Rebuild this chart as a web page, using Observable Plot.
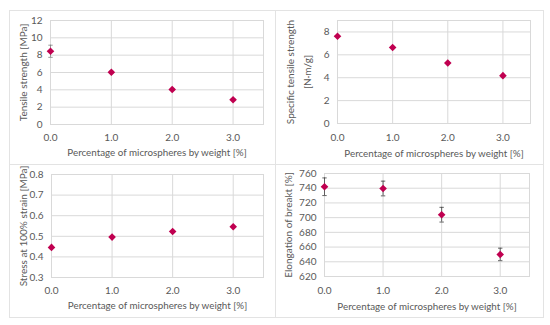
<!DOCTYPE html>
<html>
<head>
<meta charset="utf-8">
<script src="https://cdn.jsdelivr.net/npm/d3@7"></script>
<script src="https://cdn.jsdelivr.net/npm/@observablehq/plot@0.6"></script>
<style>
  html, body { margin: 0; padding: 0; background: #fff; }
  #wrap { position: relative; width: 550px; height: 325px; overflow: hidden; font-family: Lato, "Open Sans", sans-serif; }
  .line { position: absolute; background: #e3e3e3; }
</style>
</head>
<body>
<div id="wrap">
  <div class="line" style="left:9px;top:10px;width:535px;height:1px"></div>
  <div class="line" style="left:9px;top:317px;width:535px;height:1px"></div>
  <div class="line" style="left:9px;top:10px;width:1px;height:308px"></div>
  <div class="line" style="left:543px;top:10px;width:1px;height:308px"></div>
  <div class="line" style="left:275px;top:10px;width:1px;height:308px"></div>
  <div class="line" style="left:9px;top:164px;width:535px;height:1px"></div>
</div>
<script>
// ---- data ----
const pct = [0, 1, 2, 3];
const xTicks = [0, 1, 2, 3];
const xLabel = "Percentage of microspheres by weight [%]";

const tensile = [8.45, 6.03, 4.04, 2.85];
const tensileErr = [0.7, 0.12, 0.1, 0.1];
const tensileTicks = [0, 2, 4, 6, 8, 10, 12];
const tensileLabel = ["Tensile strength [MPa]"];

const specific = [7.63, 6.64, 5.29, 4.18];
const specificTicks = [0, 2, 4, 6, 8];
const specificLabel = ["Specific tensile strength", "[N·m/g]"];

const stress = [0.446, 0.496, 0.523, 0.546];
const stressTicks = [0.3, 0.4, 0.5, 0.6, 0.7, 0.8];
const stressLabel = ["Stress at 100% strain [MPa]"];

const elong = [742, 739.6, 704, 650];
const elongErr = [12, 10, 10, 8.5];
const elongTicks = [620, 640, 660, 680, 700, 720, 740, 760];
const elongLabel = ["Elongation of breakt [%]"];

// ---- styles ----
const markerColor = "#c00050";
const gridColor = "#d9d9d9";
const textColor = "#595959";

const diamond = {
  draw(ctx, size) {
    const r = Math.sqrt(size / Math.PI);
    ctx.moveTo(0, -r); ctx.lineTo(r, 0); ctx.lineTo(0, r); ctx.lineTo(-r, 0); ctx.closePath();
  }
};
const cap = {
  draw(ctx, size) {
    const r = Math.sqrt(size / Math.PI);
    ctx.moveTo(-r, 0); ctx.lineTo(r, 0);
  }
};

function panel(o) {
  const rows = pct.map((x, i) => ({x, y: o.values[i], e: o.err ? o.err[i] : 0}));
  const marks = [
    Plot.gridY(o.yTicks, {stroke: gridColor, strokeOpacity: 1}),
    Plot.gridX(xTicks, {stroke: gridColor, strokeOpacity: 1}),
    Plot.frame({stroke: gridColor}),
    Plot.axisX(xTicks, {label: null, tickSize: 0, tickPadding: o.xPad, tickFormat: d3.format(".1f"), fill: textColor, fontSize: 10}),
    Plot.axisY(o.yTicks, {label: null, tickSize: 0, tickPadding: 8, tickFormat: o.yFormat, fill: textColor, fontSize: 10}),
    Plot.text([xLabel], {frameAnchor: "bottom", lineAnchor: "middle", textAnchor: "middle", dy: o.xLabDy, fill: textColor, fontSize: 9.8})
  ];
  o.label.forEach((t, i) => {
    marks.push(Plot.text([t], {frameAnchor: "left", lineAnchor: "middle", textAnchor: "middle", dx: o.yLabDx[i], rotate: -90, fill: textColor, fontSize: 10}));
  });
  if (o.err) {
    marks.push(
      Plot.ruleX(rows, {x: "x", y1: d => d.y - d.e, y2: d => d.y + d.e, stroke: o.errColor, strokeWidth: 0.8}),
      Plot.dot(rows, {x: "x", y: d => d.y - d.e, symbol: cap, r: 2.2, stroke: o.errColor, strokeWidth: 0.8}),
      Plot.dot(rows, {x: "x", y: d => d.y + d.e, symbol: cap, r: 2.2, stroke: o.errColor, strokeWidth: 0.8})
    );
  }
  marks.push(Plot.dot(rows, {x: "x", y: "y", symbol: diamond, r: 3.8, fill: markerColor, stroke: null}));
  const svg = Plot.plot({
    width: o.w, height: o.h,
    marginLeft: o.ml, marginRight: o.mr, marginTop: o.mt, marginBottom: o.mb,
    style: {fontFamily: "Lato, 'Open Sans', sans-serif", background: "transparent", overflow: "visible"},
    x: {domain: [0, 3.5], axis: null, label: null},
    y: {domain: o.yDomain, axis: null, label: null},
    marks
  });
  svg.style.position = "absolute";
  svg.style.left = o.left + "px";
  svg.style.top = o.top + "px";
  document.getElementById("wrap").appendChild(svg);
}

panel({left: 9, top: 10, w: 266, h: 154, ml: 41, mr: 12, mt: 10, mb: 40,
  values: tensile, err: tensileErr, errColor: "#7f7f7f", yDomain: [0, 12], yTicks: tensileTicks, yFormat: d3.format("d"),
  label: tensileLabel, xPad: 9, xLabDy: 28, yLabDx: [-27]});

panel({left: 275, top: 10, w: 268, h: 154, ml: 62, mr: 13, mt: 10, mb: 41,
  values: specific, yDomain: [0, 9], yTicks: specificTicks, yFormat: d3.format("d"),
  label: specificLabel, xPad: 10, xLabDy: 30, yLabDx: [-47, -30]});

panel({left: 9, top: 164, w: 266, h: 153, ml: 42, mr: 12, mt: 10, mb: 40,
  values: stress, yDomain: [0.3, 0.8], yTicks: stressTicks, yFormat: d3.format(".1f"),
  label: stressLabel, xPad: 9, xLabDy: 28, yLabDx: [-28]});

panel({left: 275, top: 164, w: 268, h: 153, ml: 49, mr: 14, mt: 9, mb: 41,
  values: elong, err: elongErr, errColor: "#404040", yDomain: [620, 760], yTicks: elongTicks, yFormat: d3.format("d"),
  label: elongLabel, xPad: 10, xLabDy: 30, yLabDx: [-36]});
</script>
</body>
</html>
